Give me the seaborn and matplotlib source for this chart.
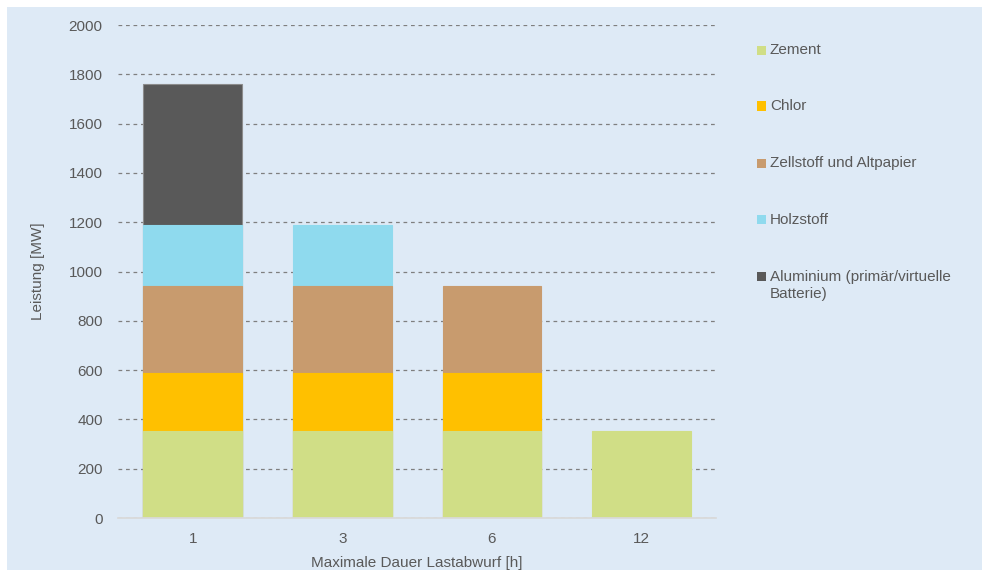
import numpy as np
import pandas as pd
import matplotlib.pyplot as plt
import matplotlib.patches as mpatches
import seaborn as sns

# ------------------------------------------------------------------
# Data (MW per Branche und max. Dauer Lastabwurf)
# ------------------------------------------------------------------
dauer = ["1", "3", "6", "12"]
zement = [353, 353, 353, 353]
chlor = [235, 235, 235, 0]
zellstoff = [353, 353, 353, 0]
holzstoff = [248, 248, 0, 0]
aluminium = [572, 0, 0, 0]

layers = [
    ("Zement", zement, "#D0DE86", "#D0DE86"),
    ("Chlor", chlor, "#FFC000", "#FFC000"),
    ("Zellstoff und Altpapier", zellstoff, "#C89B6E", "#C89B6E"),
    ("Holzstoff", holzstoff, "#8FDAEE", "#8FDAEE"),
    ("Aluminium (primär/virtuelle\nBatterie)", aluminium, "#595959", "#8C8C8C"),
]

# cumulative tops for stacking
df = pd.DataFrame({name: vals for name, vals, _, _ in layers}, index=dauer)
cum = df.cumsum(axis=1).where(df > 0)

# ------------------------------------------------------------------
# Plot
# ------------------------------------------------------------------
sns.set_theme(style="white")
plt.rcParams["font.family"] = ["Liberation Sans", "DejaVu Sans"]
text_col = "#595959"
fs = 11

fig = plt.figure(figsize=(9.89, 5.75), dpi=100, facecolor="white")
fig.patches.append(mpatches.Rectangle((0.007, 0.009), 0.986, 0.978,
                                      transform=fig.transFigure,
                                      facecolor="#DEEAF6", edgecolor="none", zorder=-10))
ax = fig.add_axes([0.1193, 0.0991, 0.605, 0.8574])
ax.set_facecolor("none")

# draw from top layer down so lower layers overlay
for name, vals, color, edge in reversed(layers):
    sns.barplot(x=dauer, y=cum[name].values, order=dauer, color=color,
                width=0.66, edgecolor=edge, linewidth=0.8, saturation=1,
                ax=ax, zorder=3)

ax.set_ylim(0, 2000)
ax.set_xlim(-0.5, 3.5)
ax.set_yticks(np.arange(0, 2001, 200))
ax.yaxis.grid(True, linestyle=(0, (3, 3)), color="#7F7F7F", linewidth=0.9, zorder=0)
ax.set_axisbelow(True)
for s in ["top", "right", "left"]:
    ax.spines[s].set_visible(False)
ax.spines["bottom"].set_color("#D9D9D9")
ax.spines["bottom"].set_zorder(4)
ax.tick_params(axis="both", length=0, labelsize=fs, colors=text_col)
ax.tick_params(axis="y", pad=11)
ax.tick_params(axis="x", pad=10)

ax.set_xlabel("Maximale Dauer Lastabwurf [h]", fontsize=fs, color=text_col, labelpad=7)
ax.set_ylabel("Leistung [MW]", fontsize=fs, color=text_col, labelpad=17)

# legend: square marker aligned with the first text line of each entry
leg_y = [50.5, 106, 163.5, 220, 276.5]  # pixel rows of entry centres
W, H = 989, 575
for (name, _, color, _), yp in zip(layers, leg_y):
    fig.add_artist(mpatches.Rectangle((757 / W, 1 - (yp + 4.5) / H), 9 / W, 9 / H,
                                      transform=fig.transFigure, facecolor=color,
                                      edgecolor="none"))
    fig.text(770 / W, 1 - (yp - 7) / H, name, fontsize=fs, color=text_col,
             va="top", ha="left", linespacing=1.3,
             transform=fig.transFigure)

output_path = "out.png"
fig.savefig(output_path, dpi=100, facecolor=fig.get_facecolor())
plt.close(fig)
